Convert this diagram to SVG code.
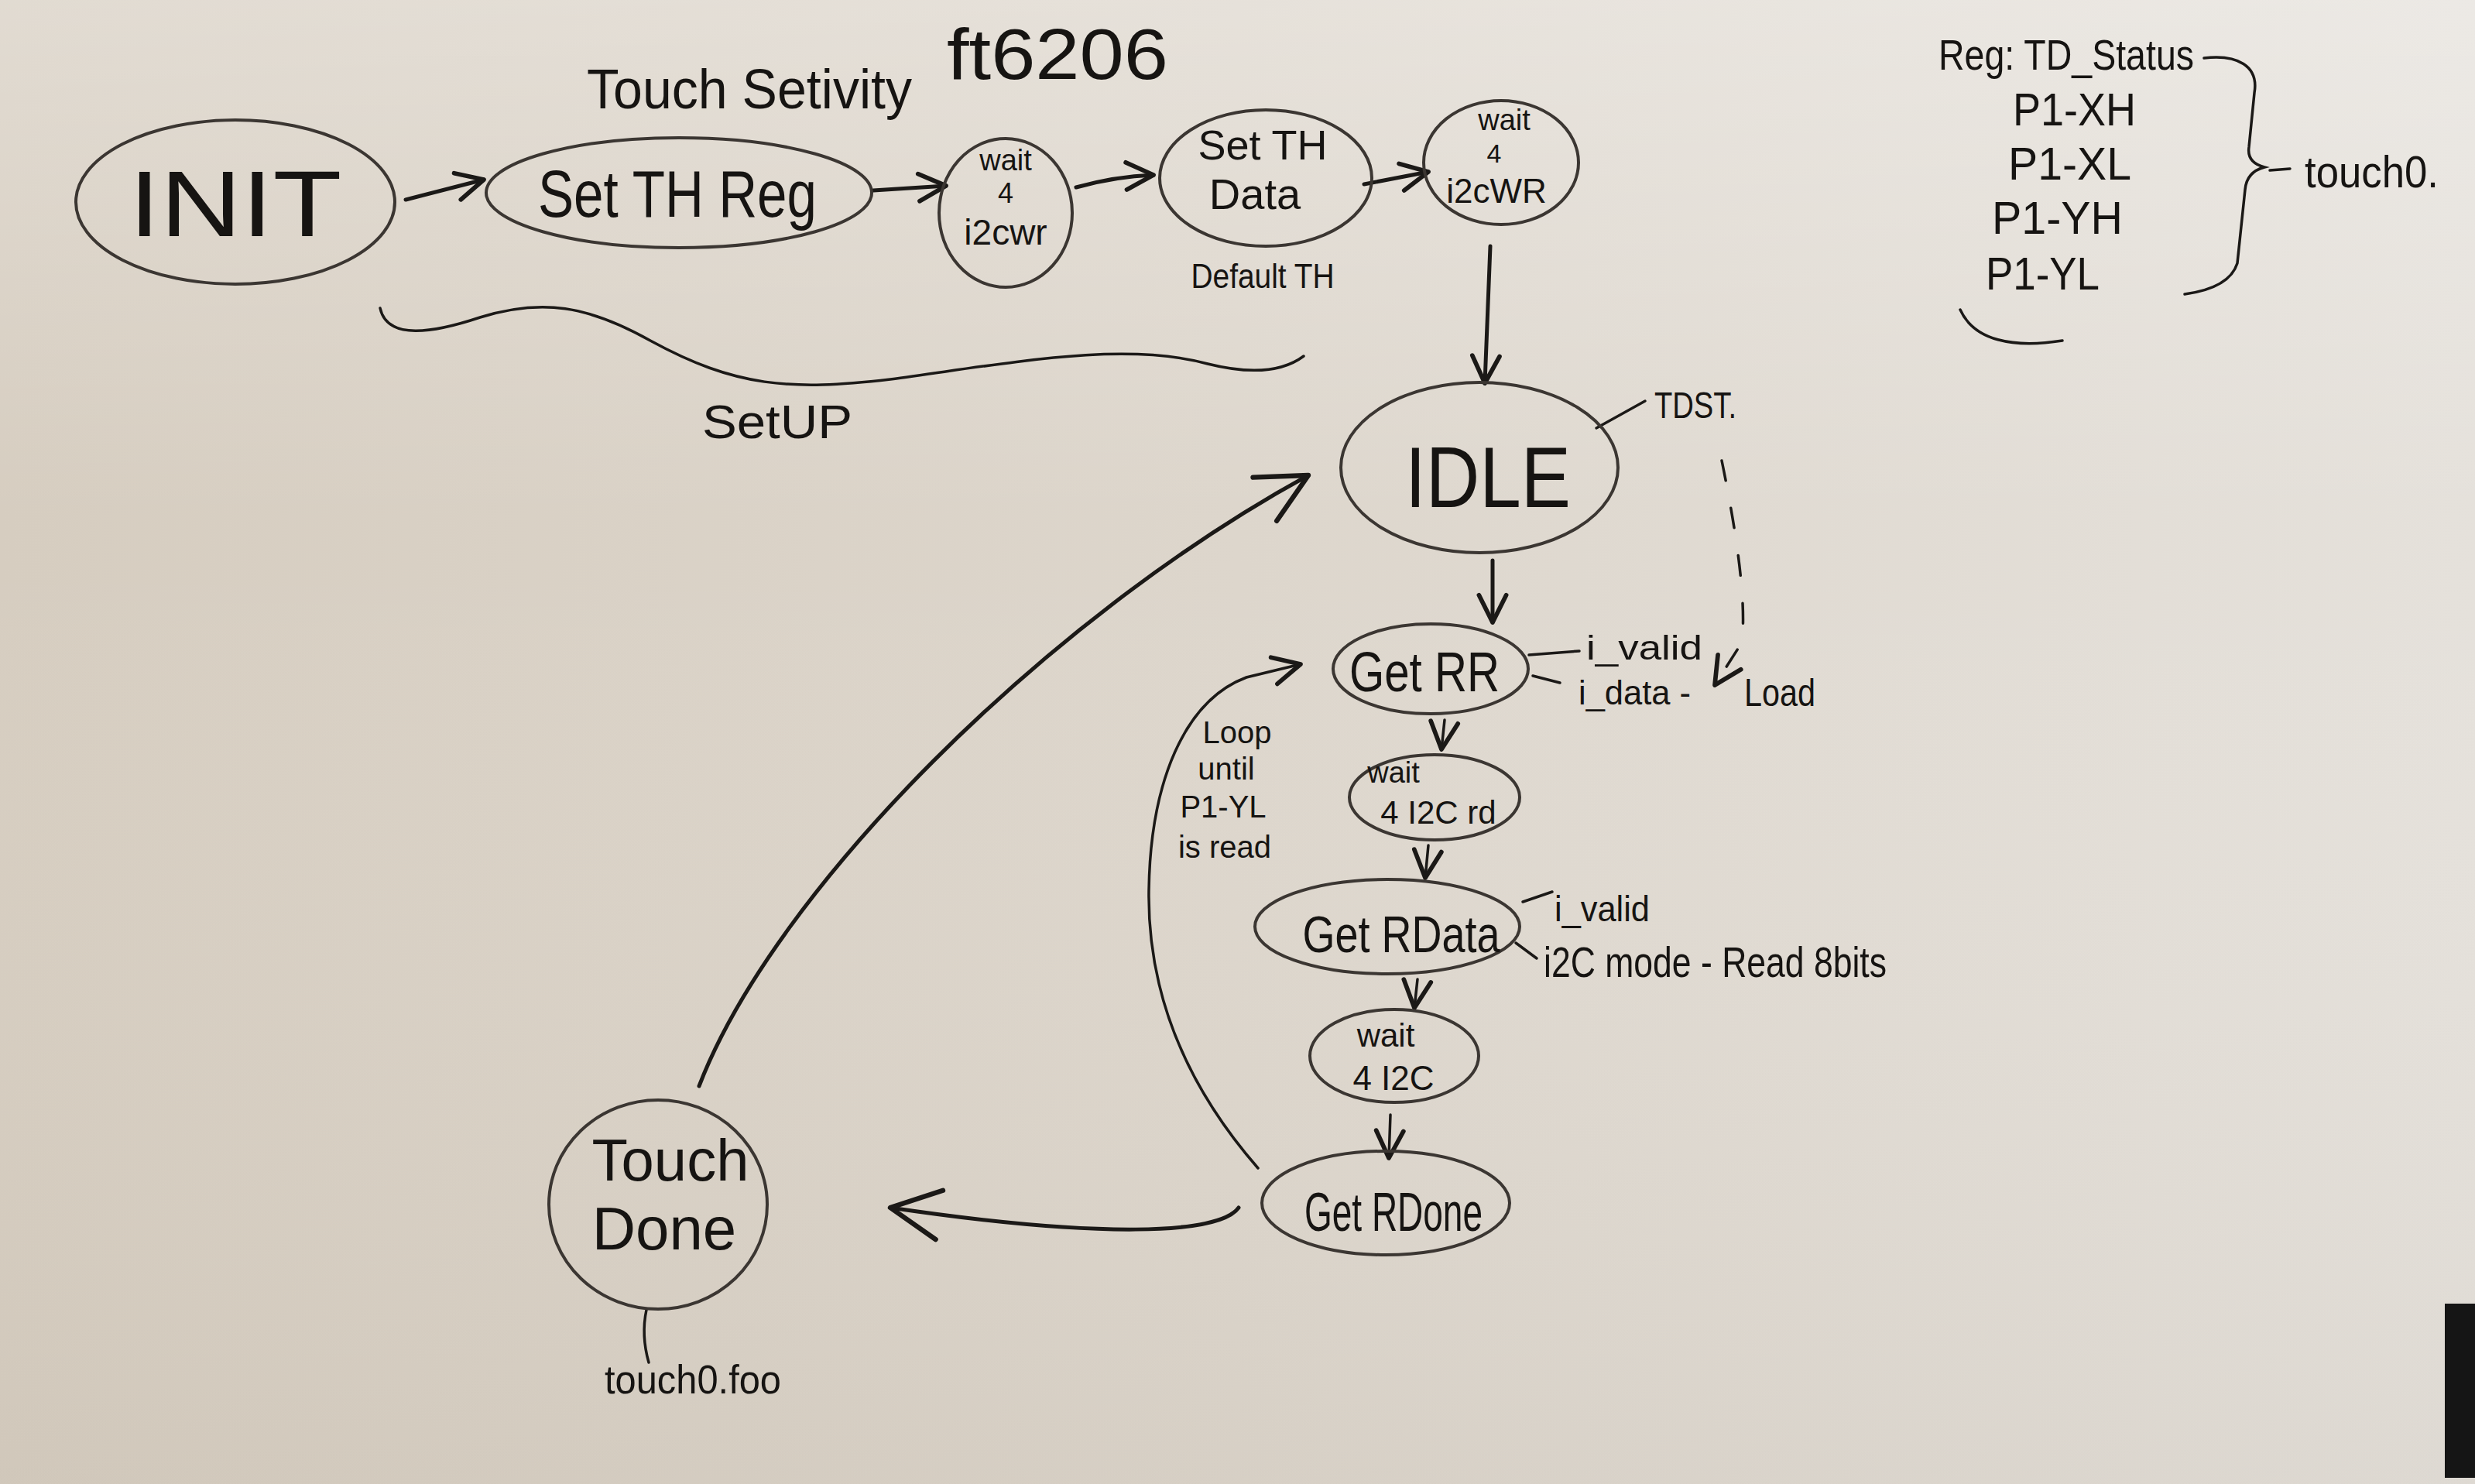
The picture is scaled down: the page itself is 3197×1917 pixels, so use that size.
<svg xmlns="http://www.w3.org/2000/svg" width="3197" height="1917" viewBox="0 0 3197 1917">
<style>
.node ellipse{fill:none;stroke:#3b3632;stroke-width:4}
.t{font-family:"Liberation Sans","DejaVu Sans",sans-serif;fill:#161412;text-anchor:middle}
.s{text-anchor:start}
.c{fill:none;stroke:#1b1917;stroke-width:5;stroke-linecap:round}
.thin{stroke-width:3.5}
.dash{stroke-dasharray:26 36}
</style>
<defs>
<linearGradient id="bg" x1="0" y1="0" x2="1" y2="0">
<stop offset="0" stop-color="#d6cdc0"/>
<stop offset="0.5" stop-color="#ddd6cc"/>
<stop offset="1" stop-color="#e5e1db"/>
</linearGradient>
<linearGradient id="bgv" x1="0" y1="0" x2="0" y2="1">
<stop offset="0" stop-color="#ffffff" stop-opacity="0.28"/>
<stop offset="0.35" stop-color="#ffffff" stop-opacity="0"/>
<stop offset="1" stop-color="#a89f92" stop-opacity="0.12"/>
</linearGradient>
<marker id="ah" viewBox="0 0 20 20" refX="18" refY="10" markerWidth="44" markerHeight="44" markerUnits="userSpaceOnUse" orient="auto">
<path d="M2 2 L18 10 L2 18" fill="none" stroke="#1b1917" stroke-width="2.6" stroke-linecap="round" stroke-linejoin="round"/>
</marker>
<marker id="ahL" viewBox="0 0 20 20" refX="18" refY="10" markerWidth="80" markerHeight="80" markerUnits="userSpaceOnUse" orient="auto">
<path d="M2 2 L18 10 L2 18" fill="none" stroke="#1b1917" stroke-width="1.6" stroke-linecap="round" stroke-linejoin="round"/>
</marker>
</defs>
<rect width="3197" height="1917" fill="url(#bg)"/>
<rect width="3197" height="1917" fill="url(#bgv)"/>
<rect x="3158" y="1684" width="39" height="225" fill="#151515"/>

<g id="connectors">
<path class="c" d="M524 258 L625 232" marker-end="url(#ah)"/>
<path class="c" d="M1128 246 L1222 240" marker-end="url(#ah)"/>
<path class="c" d="M1390 242 Q1440 228 1490 226" marker-end="url(#ah)"/>
<path class="c" d="M1762 238 L1845 222" marker-end="url(#ah)"/>
<path class="c" d="M1925 318 L1918 495" marker-end="url(#ah)"/>
<path class="c" d="M1928 724 L1928 804" marker-end="url(#ah)"/>
<path class="c thin" d="M1866 930 L1862 968" marker-end="url(#ah)"/>
<path class="c thin" d="M1845 1092 L1841 1134" marker-end="url(#ah)"/>
<path class="c thin" d="M1831 1265 L1827 1302" marker-end="url(#ah)"/>
<path class="c thin" d="M1796 1440 L1794 1496" marker-end="url(#ah)"/>
<path class="c" d="M1600 1560 C1575 1595 1420 1600 1150 1560" marker-end="url(#ahL)"/>
<path class="c" d="M903 1403 C1000 1150 1350 800 1690 614" marker-end="url(#ahL)"/>
<path class="c thin" d="M1625 1509 C1530 1400 1482 1280 1484 1150 C1486 1010 1530 905 1610 875 L1680 858" marker-end="url(#ah)"/>
<path class="c thin dash" d="M2224 595 Q2258 760 2250 830 L2215 885" marker-end="url(#ah)"/>
<path class="c thin" d="M2062 553 L2125 518"/>
<path class="c thin" d="M1975 846 L2040 841"/>
<path class="c thin" d="M1980 873 L2015 882"/>
<path class="c thin" d="M1967 1165 L2005 1152"/>
<path class="c thin" d="M1958 1218 L1985 1238"/>
<path class="c thin" d="M835 1692 Q828 1725 838 1760"/>
<path class="c thin" d="M491 398 C500 440 560 430 620 410 C700 385 760 395 840 440 C950 500 1020 505 1150 490 C1300 470 1450 440 1560 470 C1620 485 1660 478 1684 460"/>
<path class="c thin" d="M2847 75 C2890 70 2918 85 2912 120 L2905 190 Q2902 210 2925 216 Q2902 222 2900 245 L2890 340 Q2880 372 2822 380"/>
<path class="c thin" d="M2932 220 L2958 218"/>
<path class="c thin" d="M2532 400 C2550 440 2600 450 2664 440"/>
</g>

<g id="init" class="node"><ellipse cx="304" cy="261" rx="206" ry="106"/><text class="t" x="304" y="305" font-size="120" textLength="275" lengthAdjust="spacingAndGlyphs">INIT</text></g>
<g id="set-th-reg" class="node"><ellipse cx="877" cy="249" rx="249" ry="71"/><text class="t" x="875" y="280" font-size="86" textLength="360" lengthAdjust="spacingAndGlyphs">Set TH Reg</text></g>
<g id="wait-i2cwr-1" class="node"><ellipse cx="1299" cy="275" rx="86" ry="96"/><text class="t" x="1299" y="220" font-size="38">wait</text><text class="t" x="1299" y="262" font-size="36">4</text><text class="t" x="1299" y="316" font-size="46">i2cwr</text></g>
<g id="set-th-data" class="node"><ellipse cx="1635" cy="230" rx="137" ry="88"/><text class="t" x="1631" y="206" font-size="54">Set TH</text><text class="t" x="1621" y="270" font-size="56">Data</text></g>
<g id="wait-i2cwr-2" class="node"><ellipse cx="1939" cy="210" rx="100" ry="80"/><text class="t" x="1943" y="168" font-size="38">wait</text><text class="t" x="1930" y="210" font-size="34">4</text><text class="t" x="1933" y="262" font-size="44">i2cWR</text></g>
<g id="idle" class="node"><ellipse cx="1911" cy="604" rx="179" ry="110"/><text class="t" x="1922" y="655" font-size="112" textLength="214" lengthAdjust="spacingAndGlyphs">IDLE</text></g>
<g id="get-rr" class="node"><ellipse cx="1848" cy="864" rx="126" ry="58"/><text class="t" x="1840" y="893" font-size="72" textLength="194" lengthAdjust="spacingAndGlyphs">Get RR</text></g>
<g id="wait-i2c-rd" class="node"><ellipse cx="1853" cy="1030" rx="110" ry="55"/><text class="t" x="1800" y="1011" font-size="38">wait</text><text class="t" x="1858" y="1064" font-size="42">4 I2C rd</text></g>
<g id="get-rdata" class="node"><ellipse cx="1792" cy="1197" rx="171" ry="61"/><text class="t" x="1810" y="1230" font-size="66" textLength="255" lengthAdjust="spacingAndGlyphs">Get RData</text></g>
<g id="wait-i2c" class="node"><ellipse cx="1801" cy="1364" rx="109" ry="60"/><text class="t" x="1790" y="1352" font-size="42">wait</text><text class="t" x="1800" y="1408" font-size="44">4 I2C</text></g>
<g id="get-rdone" class="node"><ellipse cx="1790" cy="1554" rx="160" ry="67"/><text class="t" x="1800" y="1590" font-size="70" textLength="230" lengthAdjust="spacingAndGlyphs">Get RDone</text></g>
<g id="touch-done" class="node"><ellipse cx="850" cy="1556" rx="141" ry="135"/><text class="t" x="866" y="1525" font-size="76">Touch</text><text class="t" x="858" y="1614" font-size="78">Done</text></g>

<g id="labels">
<text class="t" x="968" y="140" font-size="72" textLength="420" lengthAdjust="spacingAndGlyphs">Touch Setivity</text>
<text class="t" x="1366" y="102" font-size="92" textLength="286" lengthAdjust="spacingAndGlyphs">ft6206</text>
<text class="t" x="1631" y="372" font-size="44" textLength="185" lengthAdjust="spacingAndGlyphs">Default TH</text>
<text class="t" x="1004" y="566" font-size="62" textLength="194" lengthAdjust="spacingAndGlyphs">SetUP</text>
<text class="t s" x="2137" y="540" font-size="48" textLength="106" lengthAdjust="spacingAndGlyphs">TDST.</text>
<text class="t s" x="2049" y="852" font-size="44" textLength="150" lengthAdjust="spacingAndGlyphs">i_valid</text>
<text class="t s" x="2039" y="910" font-size="44" textLength="145" lengthAdjust="spacingAndGlyphs">i_data -</text>
<text class="t s" x="2253" y="912" font-size="50" textLength="92" lengthAdjust="spacingAndGlyphs">Load</text>
<text class="t" x="1598" y="960" font-size="40">Loop</text>
<text class="t" x="1584" y="1007" font-size="40">until</text>
<text class="t" x="1580" y="1056" font-size="40">P1-YL</text>
<text class="t" x="1582" y="1108" font-size="40">is read</text>
<text class="t s" x="2008" y="1190" font-size="46" textLength="123" lengthAdjust="spacingAndGlyphs">i_valid</text>
<text class="t s" x="1994" y="1262" font-size="56" textLength="443" lengthAdjust="spacingAndGlyphs">i2C mode - Read 8bits</text>
<text class="t s" x="781" y="1800" font-size="52" textLength="228" lengthAdjust="spacingAndGlyphs">touch0.foo</text>
<text class="t s" x="2504" y="90" font-size="56" textLength="330" lengthAdjust="spacingAndGlyphs">Reg: TD_Status</text>
<text class="t s" x="2600" y="162" font-size="60" textLength="159" lengthAdjust="spacingAndGlyphs">P1-XH</text>
<text class="t s" x="2594" y="232" font-size="60" textLength="159" lengthAdjust="spacingAndGlyphs">P1-XL</text>
<text class="t s" x="2573" y="302" font-size="60" textLength="169" lengthAdjust="spacingAndGlyphs">P1-YH</text>
<text class="t s" x="2565" y="374" font-size="60" textLength="147" lengthAdjust="spacingAndGlyphs">P1-YL</text>
<text class="t s" x="2977" y="242" font-size="58" textLength="173" lengthAdjust="spacingAndGlyphs">touch0.</text>
</g>
</svg>
